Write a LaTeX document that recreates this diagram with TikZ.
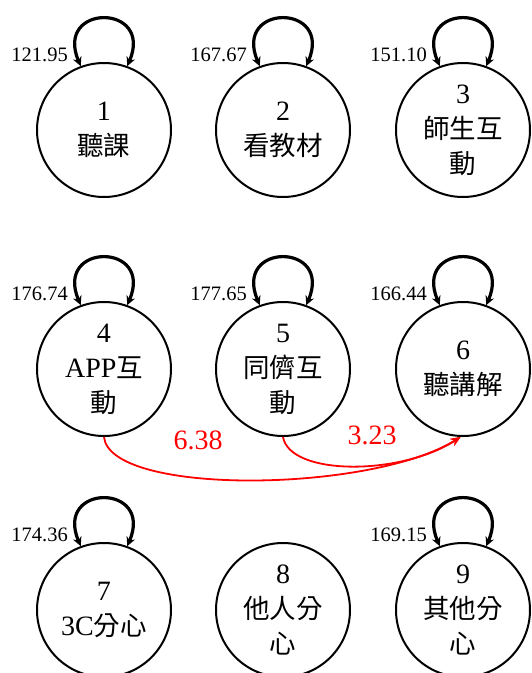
\documentclass[tikz,border=0pt]{standalone}
\usepackage{fontspec}
\setmainfont{Liberation Serif}
\newfontfamily\cjk{Noto Sans CJK TC}
\usetikzlibrary{arrows.meta,calc}
\newcommand\zh[1]{{\cjk\fontsize{26.5}{35}\selectfont #1}}
\tikzset{
  state/.style={circle, draw, line width=2pt, minimum size=134pt, inner sep=0pt, align=center, font=\fontsize{28}{35}\selectfont},
  loopline/.style={line width=3.2pt, {Stealth[length=9pt,width=9pt]}-{Stealth[length=9pt,width=9pt]}},
  looplbl/.style={anchor=east, font=\fontsize{20.5}{20}\selectfont, inner sep=0pt},
  trans/.style={red, line width=1.8pt, -{Stealth[length=10pt,width=8pt]}},
  translbl/.style={red, font=\fontsize{28}{28}\selectfont, inner sep=0pt},
}
\begin{document}
\begin{tikzpicture}[x=1pt,y=1pt]
\useasboundingbox (0,0) rectangle (532,-673);
\node[state] (n1) at (104,-130) {1\\\zh{聽課}};
\node[state] (n2) at (283,-130) {2\\\zh{看教材}};
\node[state] (n3) at (463,-130) {3\\\zh{師生互}\\\zh{動}};
\node[state] (n4) at (104,-369) {4\\APP\zh{互}\\\zh{動}};
\node[state] (n5) at (283,-369) {5\\\zh{同儕互}\\\zh{動}};
\node[state] (n6) at (463,-369) {6\\\zh{聽講解}};
\node[state] (n7) at (104,-610) {7\\3C\zh{分心}};
\node[state] (n8) at (283,-610) {8\\\zh{他人分}\\\zh{心}};
\node[state] (n9) at (463,-610) {9\\\zh{其他分}\\\zh{心}};
\foreach \n/\v in {n1/121.95,n2/167.67,n3/151.10,n4/176.74,n5/177.65,n6/166.44,n7/174.36,n9/169.15} {
  \draw[loopline] (\n.110) .. controls ($(\n.110)+(-27,63)$) and ($(\n.70)+(27,63)$) .. (\n.70);
  \node[looplbl] (l\n) at ($(\n)+(-36,75)$) {\v};
}
\draw[trans] (n4.south) .. controls ($(n4.south)+(6,-59)$) and ($(n6.-92)+(-90,-56)$) .. (n6.-92);
\draw[trans] (n5.south) .. controls ($(n5.south)+(7,-39)$) and ($(n6.-92)+(-60,-39)$) .. (n6.-92);
\node[translbl] (w46) at (198,-440) {6.38};
\node[translbl] (w56) at (372,-435) {3.23};
\end{tikzpicture}
\end{document}
